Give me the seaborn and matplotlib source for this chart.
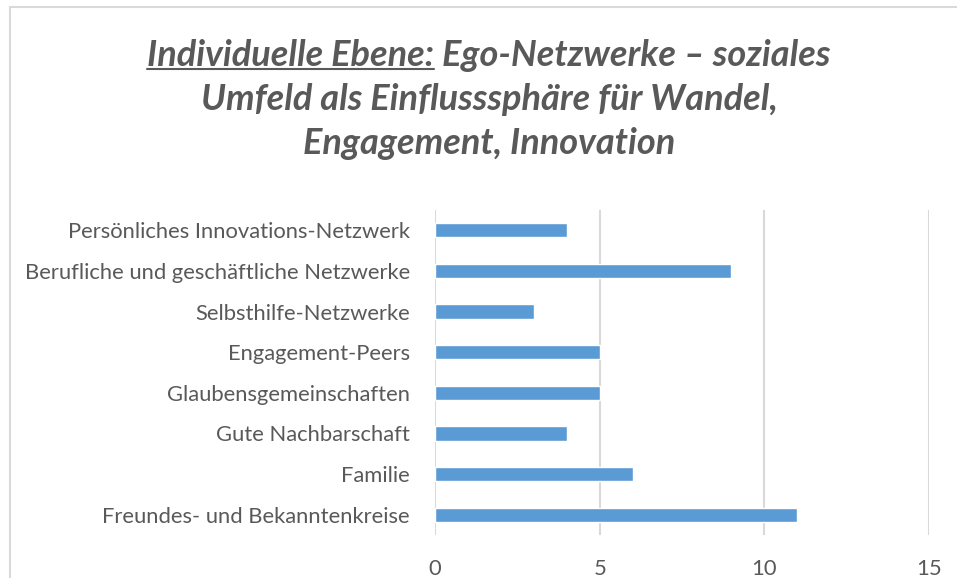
import pandas as pd
import numpy as np
import seaborn as sns
import matplotlib.pyplot as plt
from matplotlib.lines import Line2D
from matplotlib.patches import Rectangle

# data (top to bottom as in the chart)
categories = [
    "Persönliches Innovations-Netzwerk",
    "Berufliche und geschäftliche Netzwerke",
    "Selbsthilfe-Netzwerke",
    "Engagement-Peers",
    "Glaubensgemeinschaften",
    "Gute Nachbarschaft",
    "Familie",
    "Freundes- und Bekanntenkreise",
]
counts = [4, 9, 3, 5, 5, 4, 6, 11]
x_ticks = [0, 5, 10, 15]

title_lines = [
    "Individuelle Ebene: Ego-Netzwerke – soziales",
    "Umfeld als Einflusssphäre für Wandel,",
    "Engagement, Innovation",
]
underlined = "Individuelle Ebene:"

df = pd.DataFrame({"kategorie": categories, "anzahl": counts})

sns.set_theme(style="white")
plt.rcParams['font.family'] = ['Lato', 'DejaVu Sans']
text_col = "#595959"
grid_col = "#d9d9d9"

fig = plt.figure(figsize=(9.57, 5.78), dpi=100)
ax = fig.add_axes([435 / 957, 1 - 535 / 578, (929 - 435) / 957, (535 - 210) / 578])

sns.barplot(data=df, x="anzahl", y="kategorie", orient="h", color="#5b9bd5",
            width=0.35, saturation=1, ax=ax)

ax.set_xlim(0, 15)
ax.set_ylim(7.5, -0.5)
ax.set_xticks(x_ticks)
ax.set_xlabel("")
ax.set_ylabel("")
ax.grid(axis="x", color=grid_col, linewidth=1.5)
ax.set_axisbelow(True)
for s in ax.spines.values():
    s.set_visible(False)
ax.tick_params(axis="y", length=0, pad=18, labelsize=15.8, labelcolor=text_col)
ax.tick_params(axis="x", length=0, pad=17, labelsize=15.8, labelcolor=text_col)

# outer chart border (cropped on the right and bottom)
fig.patches.append(Rectangle((10 / 957, -0.1), 1.2, 1 - 7 / 578 + 0.1,
                             transform=fig.transFigure, fill=False,
                             edgecolor=grid_col, linewidth=1.5))

# title
tsize = 26
title_kw = dict(fontsize=tsize, fontweight="bold", fontstyle="italic",
                color=text_col, ha="center", va="center")
ys = [55, 100, 143]
txts = []
for line, y in zip(title_lines, ys):
    txts.append(fig.text(489 / 957, 1 - y / 578, line, **title_kw))

# underline the first part of line 1
fig.canvas.draw()
r = fig.canvas.get_renderer()
bb = txts[0].get_window_extent(r)
probe = fig.text(0, 0, underlined, fontsize=tsize, fontweight="bold", fontstyle="italic")
pw = probe.get_window_extent(r).width
probe.remove()
uy = bb.y0 + 3
fig.add_artist(Line2D([bb.x0, bb.x0 + pw], [uy, uy], transform=None,
                      color=text_col, linewidth=1.5))

fig.savefig("out.png", dpi=100)
